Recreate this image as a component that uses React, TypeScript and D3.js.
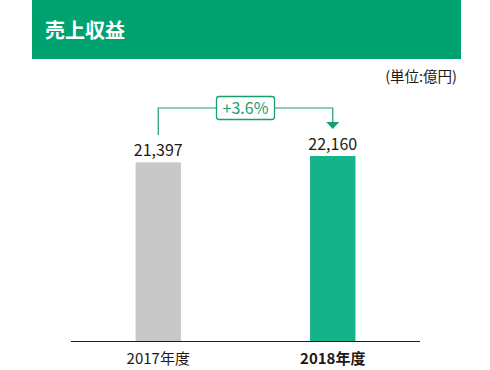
import React from "react";
import * as d3 from "d3";

const years = ["2017年度", "2018年度"];
const revenue = [21397, 22160];
const growthLabel = "+3.6%";
const title = "売上収益";
const unitLabel = "(単位:億円)";

const W = 490, H = 370;
const FONT = "'Noto Sans CJK JP', 'Noto Sans', sans-serif";
const HEADER_GREEN = "#00a270";
const BAR_GREEN = "#14b38a";
const LINE_GREEN = "#1a9e6e";
const TEXT = "#231815";

export default function App() {
  // plot area
  const baseY = 341;
  const x = d3.scaleBand<string>().domain(years).range([71, 420]).paddingInner(0.74).paddingOuter(0.37);
  const y = d3.scaleLinear().domain([0, 22160]).range([baseY, 156]);

  const cx = (d: string) => (x(d) as number) + x.bandwidth() / 2;
  const x0 = cx(years[0]), x1 = cx(years[1]);
  const topY = 108;

  return (
    <svg width={W} height={H} style={{ position: "absolute", left: 0, top: 0 }} fontFamily={FONT}>
      <rect x={32} y={0} width={429} height={59} fill={HEADER_GREEN} />
      <text x={45} y={38} fill="#fff" fontSize={20} fontWeight="bold">{title}</text>
      <text x={457} y={82} fill={TEXT} fontSize={14.5} textAnchor="end">{unitLabel}</text>

      {years.map((d, i) => (
        <g key={d}>
          <rect x={x(d)} y={y(revenue[i])} width={x.bandwidth()} height={baseY - y(revenue[i])}
            fill={i === 0 ? "#c8c8c8" : BAR_GREEN} />
          <text x={cx(d)} y={y(revenue[i]) - 6} textAnchor="middle" fontSize={16} fill={TEXT}>
            {d3.format(",")(revenue[i])}
          </text>
          <text x={cx(d)} y={364} textAnchor="middle" fontSize={15} fill={TEXT}
            fontWeight={i === 1 ? "bold" : "normal"}>{d}</text>
        </g>
      ))}

      <line x1={71} x2={420} y1={baseY + 0.5} y2={baseY + 0.5} stroke={TEXT} strokeWidth={1} />

      {/* growth arrow */}
      <path d={`M${x0},135V${topY}H${x1}V122`} fill="none" stroke={LINE_GREEN} strokeWidth={1.2} />
      <path d={`M${x1 - 6.5},122L${x1 + 6.5},122L${x1},129Z`} fill={LINE_GREEN} />
      <rect x={216.5} y={96.5} width={58} height={23} rx={2.5} fill="#fff" stroke={LINE_GREEN} strokeWidth={1.3} />
      <text x={245.5} y={113.5} textAnchor="middle" fontSize={16} fill={LINE_GREEN}>{growthLabel}</text>
    </svg>
  );
}
